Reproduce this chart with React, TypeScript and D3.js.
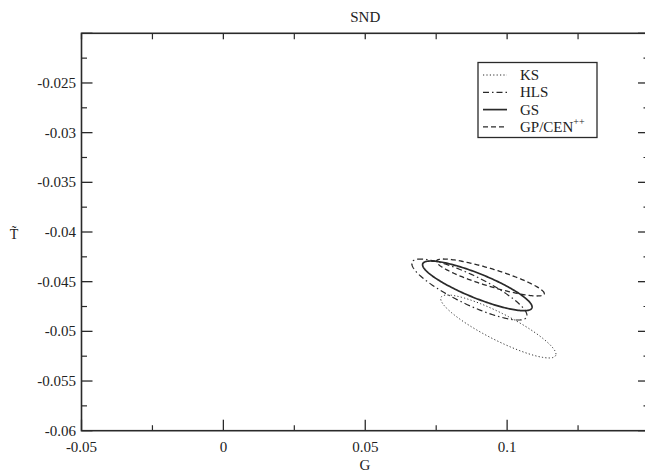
import React from "react";
import * as d3 from "d3";

const title = "SND";
const xLabel = "G";
const yLabel = "T\u0303";
const xDomain = [-0.05, 0.15];
const yDomain = [-0.06, -0.02];
const xMajorTicks = [-0.05, 0, 0.05, 0.1, 0.15];
const xTickLabels = ["-0.05", "0", "0.05", "0.1"];
const xMinorTicks = [-0.025, 0.025, 0.075, 0.125];
const yMajorTicks = [-0.06, -0.055, -0.05, -0.045, -0.04, -0.035, -0.03, -0.025, -0.02];
const yTickLabels = ["-0.06", "-0.055", "-0.05", "-0.045", "-0.04", "-0.035", "-0.03", "-0.025"];
const yMinorTicks = [-0.0575, -0.0525, -0.0475, -0.0425, -0.0375, -0.0325, -0.0275, -0.0225];

// ellipse series: name, centre G, centre T, half-width G, half-height T, correlation
const seriesNames = ["KS", "HLS", "GS", "GP/CEN"];
const centerG = [0.0969, 0.0867, 0.0895, 0.0941];
const centerT = [-0.04951, -0.04579, -0.04542, -0.04458];
const spreadG = [0.0203, 0.0203, 0.0193, 0.019];
const spreadT = [0.00317, 0.00307, 0.0025, 0.00186];
const corr = [-0.88, -0.85, -0.85, -0.87];
const dashes = ["1.2,2.2", "6,3,1.5,3", "", "5,3"];
const widths = [1, 1.2, 1.7, 1.3];

const W = 645, H = 474;
const left = 81.5, right = 649, top = 33.3, bottom = 430.7;

export default function App() {
  const x = d3.scaleLinear().domain(xDomain).range([left, right]);
  const y = d3.scaleLinear().domain(yDomain).range([bottom, top]);
  const line = d3.line<[number, number]>().x(d => x(d[0])).y(d => y(d[1])).curve(d3.curveLinearClosed);
  const steps = d3.range(0, 360, 2).map(a => (a * Math.PI) / 180);
  const font = '"Liberation Serif", Tinos, "DejaVu Serif", serif';
  const stroke = "#2a2a2a";
  const ts = { fontFamily: font };

  return (
    <div style={{ position: "absolute", left: 0, top: 0 }}>
      <svg width={W} height={H} style={{ display: "block", background: "#fff", fontFamily: font }}>
        <rect x={0} y={0} width={W} height={H} fill="#fff" />
        <text style={ts} x={(left + right) / 2} y={22} textAnchor="middle" fontSize={15} fill="#222">{title}</text>
        {seriesNames.map((n, i) => {
          const pts: [number, number][] = steps.map(t => [
            centerG[i] + spreadG[i] * Math.cos(t),
            centerT[i] + spreadT[i] * (corr[i] * Math.cos(t) + Math.sqrt(1 - corr[i] * corr[i]) * Math.sin(t)),
          ]);
          return (
            <path key={n} d={line(pts) || ""} fill="none" stroke={stroke} strokeWidth={widths[i]}
              strokeDasharray={dashes[i] || undefined} />
          );
        })}
        <rect x={left} y={top} width={right - left} height={bottom - top} fill="none" stroke={stroke} strokeWidth={1.6} />
        {xMajorTicks.map(v => (
          <g key={"xm" + v}>
            <line x1={x(v)} x2={x(v)} y1={bottom} y2={bottom - 11} stroke={stroke} strokeWidth={1.3} />
            <line x1={x(v)} x2={x(v)} y1={top} y2={top + 6} stroke={stroke} strokeWidth={1.3} />
          </g>
        ))}
        {xMinorTicks.map(v => (
          <g key={"xn" + v}>
            <line x1={x(v)} x2={x(v)} y1={bottom} y2={bottom - 5.5} stroke={stroke} strokeWidth={1.2} />
            <line x1={x(v)} x2={x(v)} y1={top} y2={top + 6} stroke={stroke} strokeWidth={1.2} />
          </g>
        ))}
        {xTickLabels.map((l, i) => (
          <text style={ts} key={"xl" + l} x={x(xMajorTicks[i])} y={452} textAnchor="middle" fontSize={15} fill="#222">{l}</text>
        ))}
        {yMajorTicks.map(v => (
          <g key={"ym" + v}>
            <line x1={left} x2={left + 11} y1={y(v)} y2={y(v)} stroke={stroke} strokeWidth={1.3} />
            <line x1={right} x2={right - 11} y1={y(v)} y2={y(v)} stroke={stroke} strokeWidth={1.3} />
          </g>
        ))}
        {yMinorTicks.map(v => (
          <g key={"yn" + v}>
            <line x1={left} x2={left + 5.5} y1={y(v)} y2={y(v)} stroke={stroke} strokeWidth={1.2} />
            <line x1={right} x2={right - 5.5} y1={y(v)} y2={y(v)} stroke={stroke} strokeWidth={1.2} />
          </g>
        ))}
        {yTickLabels.map((l, i) => (
          <text style={ts} key={"yl" + l} x={76} y={y(yMajorTicks[i]) + 5} textAnchor="end" fontSize={15} fill="#222">{l}</text>
        ))}
        <text style={ts} x={365} y={470} textAnchor="middle" fontSize={15} fill="#222">{xLabel}</text>
        <text style={ts} x={14} y={239} textAnchor="middle" fontSize={14} fill="#222">{yLabel}</text>
        <rect x={478} y={62.5} width={119} height={75} fill="#fff" stroke={stroke} strokeWidth={1.3} />
        {seriesNames.map((n, i) => {
          const ly = 75 + i * 17.3;
          return (
            <g key={"lg" + n}>
              <line x1={483} x2={507} y1={ly} y2={ly} stroke={stroke} strokeWidth={widths[i]}
                strokeDasharray={dashes[i] || undefined} />
              <text style={ts} x={520} y={ly + 5} fontSize={15} fill="#222">
                {n}
                {i === 3 ? <tspan dy={-7} fontSize={10}>++</tspan> : null}
              </text>
            </g>
          );
        })}
      </svg>
    </div>
  );
}
